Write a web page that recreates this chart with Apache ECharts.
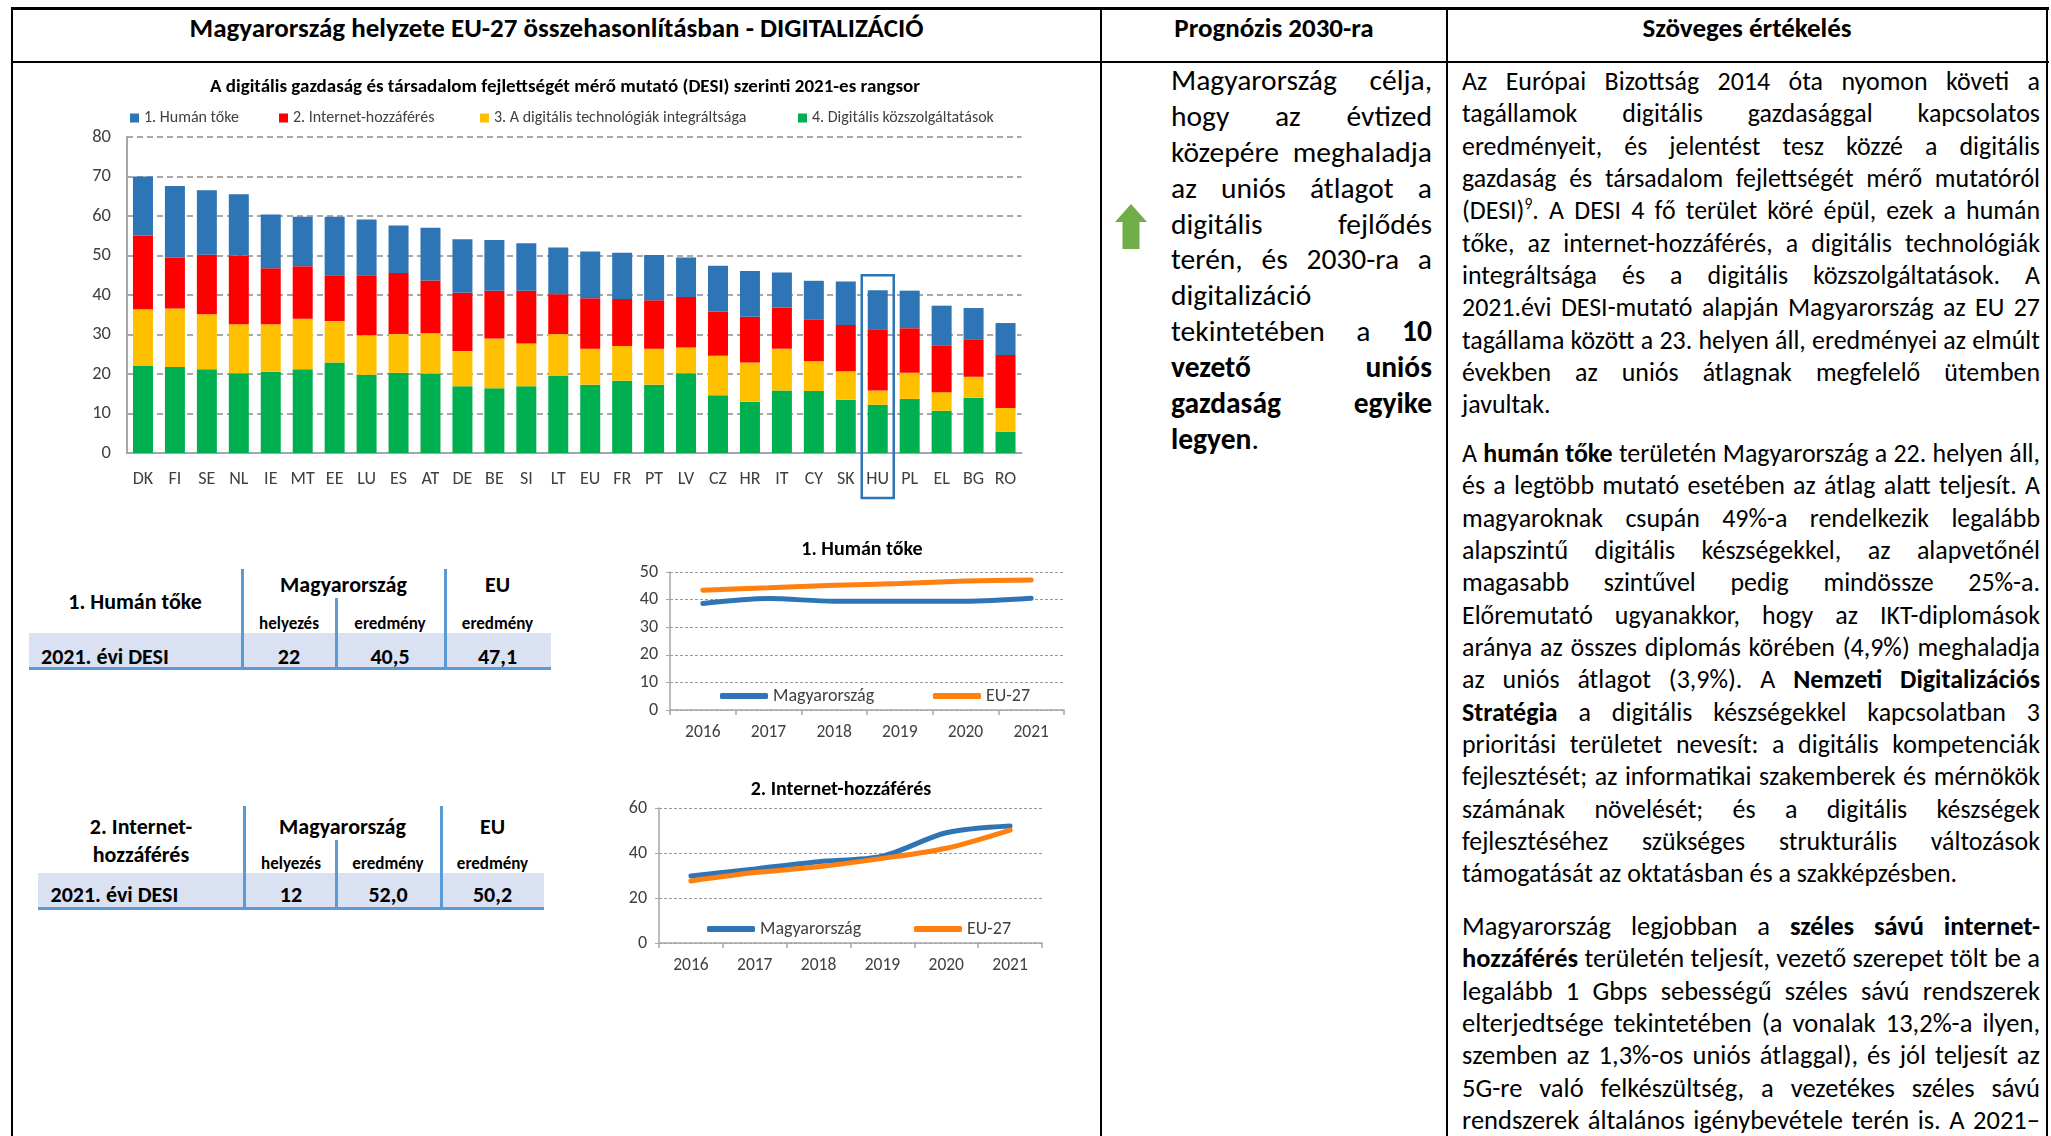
<!DOCTYPE html>
<html lang="hu">
<head>
<meta charset="utf-8">
<title>Magyarország helyzete EU-27 összehasonlításban - DIGITALIZÁCIÓ</title>
<script src="https://cdn.jsdelivr.net/npm/echarts@6/dist/echarts.min.js"></script>
<style>
  html, body { margin: 0; padding: 0; background: #fff; }
  body {
    position: relative; width: 2051px; height: 1136px; overflow: hidden;
    font-family: Carlito, Lato, "Open Sans", sans-serif; color: #000;
  }
  .rule { position: absolute; background: #000; }
  .head { position: absolute; top: 10px; height: 36px; line-height: 36px;
          text-align: center; font-weight: bold; font-size: 27px; white-space: nowrap; }
  .txt { position: absolute; }
  .txt .ln { text-align: justify; text-align-last: justify; overflow: visible; }
  .txt .ln.end { text-align-last: left; }
  .txt sup { font-size: 0.6em; line-height: 0; vertical-align: super; }
  .cell { position: absolute; transform: translate(-50%, -50%); white-space: nowrap;
          font-weight: bold; line-height: 1; }
  .cell.left { transform: translate(0, -50%); }
  .box { position: absolute; }
  .chart { position: absolute; }
</style>
</head>
<body>

<!-- table frame -->
<div class="rule" style="left:11px; top:7px; width:2038px; height:3px;"></div>
<div class="rule" style="left:11px; top:61px; width:2038px; height:2px;"></div>
<div class="rule" style="left:11px; top:7px; width:2px; height:1129px;"></div>
<div class="rule" style="left:1100px; top:7px; width:2px; height:1129px;"></div>
<div class="rule" style="left:1446px; top:7px; width:2px; height:1129px;"></div>
<div class="rule" style="left:2046px; top:7px; width:2px; height:1129px;"></div>

<div class="head" style="left:13px; width:1087px;">Magyarország helyzete EU-27 összehasonlításban - DIGITALIZÁCIÓ</div>
<div class="head" style="left:1102px; width:344px;">Prognózis 2030-ra</div>
<div class="head" style="left:1448px; width:598px;">Szöveges értékelés</div>

<div id="bars" class="chart" style="left:0; top:63px; width:1100px; height:480px;"></div>
<div id="line1" class="chart" style="left:590px; top:535px; width:500px; height:215px;"></div>
<div id="line2" class="chart" style="left:590px; top:770px; width:500px; height:215px;"></div>
<div id="tables"></div>

<svg style="position:absolute; left:1115px; top:204px;" width="32" height="45" viewBox="0 0 32 45">
  <polygon points="16,0 32,18 24.5,18 24.5,45 7.5,45 7.5,18 0,18" fill="#70AD47"></polygon>
</svg>

<div id="prognosis" class="txt" style="left:1171px; top:63px; width:261px;"></div>
<div id="p1" class="txt" style="left:1462px; top:65px; width:578px;"></div>
<div id="p2" class="txt" style="left:1462px; top:437px; width:578px;"></div>
<div id="p3" class="txt" style="left:1462px; top:910px; width:578px;"></div>

<script>
// DESI 2021 ranking, contributions of the four dimensions
var countries = ['DK', 'FI', 'SE', 'NL', 'IE', 'MT', 'EE', 'LU', 'ES', 'AT', 'DE', 'BE', 'SI', 'LT',
                 'EU', 'FR', 'PT', 'LV', 'CZ', 'HR', 'IT', 'CY', 'SK', 'HU', 'PL', 'EL', 'BG', 'RO'];
var humanCapital = [15.0, 18.2, 16.3, 15.5, 13.6, 12.5, 14.8, 14.1, 12.0, 13.3, 13.5, 12.8, 12.0, 11.8,
                    11.8, 11.7, 11.4, 10.0, 11.6, 11.6, 8.9, 9.9, 11.0, 9.9, 9.5, 10.0, 7.9, 8.1];
var connectivity = [18.6, 12.8, 15.1, 17.4, 14.2, 13.3, 11.6, 15.2, 15.5, 13.4, 14.8, 12.1, 13.4, 10.1,
                    12.8, 11.9, 12.3, 12.8, 11.2, 11.6, 10.4, 10.5, 11.7, 15.5, 11.3, 11.9, 9.5, 13.4];
var techIntegration = [14.4, 14.8, 13.9, 12.4, 12.0, 12.8, 10.5, 10.0, 9.8, 10.2, 8.9, 12.6, 10.8, 10.5,
                       9.1, 8.8, 9.1, 6.5, 10.0, 9.9, 10.6, 7.5, 7.2, 3.6, 6.6, 4.7, 5.3, 6.0];
var publicServices = [22.0, 21.8, 21.2, 20.2, 20.6, 21.2, 22.9, 19.8, 20.3, 20.1, 16.9, 16.4, 16.9, 19.6,
                      17.3, 18.3, 17.3, 20.2, 14.6, 13.0, 15.8, 15.7, 13.5, 12.2, 13.7, 10.7, 14.0, 5.4];
var seriesNames = ['1. Humán tőke', '2. Internet-hozzáférés',
                   '3. A digitális technológiák integráltsága', '4. Digitális közszolgáltatások'];
var highlightCountry = 'HU';
var highlightTop = 45;

// small charts: Hungary vs EU-27
var years = ['2016', '2017', '2018', '2019', '2020', '2021'];
var humanHu = [38.6, 40.4, 39.4, 39.4, 39.4, 40.5];
var humanEu = [43.4, 44.3, 45.2, 45.8, 46.7, 47.1];
var internetHu = [29.8, 32.9, 36.1, 38.6, 49.0, 52.0];
var internetEu = [27.6, 31.3, 33.9, 37.6, 42.1, 50.2];

// summary tables
var tableTitles = [['1. Humán tőke'], ['2. Internet-', 'hozzáférés']];
var tableRanks = [22, 12];
var tableHuScores = [40.5, 52.0];
var tableEuScores = [47.1, 50.2];

var FONT = 'Carlito, Lato, "Open Sans", sans-serif';
var BLUE = '#2E75B6', RED = '#FF0000', YELLOW = '#FFC000', GREEN = '#00B050';
var LINE_BLUE = '#2F75B5', LINE_ORANGE = '#FF7F0F';

// ---------- text columns ----------
var prognosisLines = [
  ['Magyarország célja,', 0], ['hogy az évtized', 0], ['közepére meghaladja', 0],
  ['az uniós átlagot a', 0], ['digitális fejlődés', 0], ['terén, és 2030-ra a', 0],
  ['digitalizáció', 1], ['tekintetében a <b>10</b>', 0], ['<b>vezető uniós</b>', 0],
  ['<b>gazdaság egyike</b>', 0], ['<b>legyen</b>.', 1]
];
var para1 = [
  'Az Európai Bizottság 2014 óta nyomon követi a',
  'tagállamok digitális gazdasággal kapcsolatos',
  'eredményeit, és jelentést tesz közzé a digitális',
  'gazdaság és társadalom fejlettségét mérő mutatóról',
  '(DESI)<sup>9</sup>. A DESI 4 fő terület köré épül, ezek a humán',
  'tőke, az internet-hozzáférés, a digitális technológiák',
  'integráltsága és a digitális közszolgáltatások. A',
  '2021.évi DESI-mutató alapján Magyarország az EU 27',
  'tagállama között a 23. helyen áll, eredményei az elmúlt',
  'években az uniós átlagnak megfelelő ütemben',
  'javultak.'
];
var para2 = [
  'A <b>humán tőke</b> területén Magyarország a 22. helyen áll,',
  'és a legtöbb mutató esetében az átlag alatt teljesít. A',
  'magyaroknak csupán 49%-a rendelkezik legalább',
  'alapszintű digitális készségekkel, az alapvetőnél',
  'magasabb szintűvel pedig mindössze 25%-a.',
  'Előremutató ugyanakkor, hogy az IKT-diplomások',
  'aránya az összes diplomás körében (4,9%) meghaladja',
  'az uniós átlagot (3,9%). A <b>Nemzeti Digitalizációs</b>',
  '<b>Stratégia</b> a digitális készségekkel kapcsolatban 3',
  'prioritási területet nevesít: a digitális kompetenciák',
  'fejlesztését; az informatikai szakemberek és mérnökök',
  'számának növelését; és a digitális készségek',
  'fejlesztéséhez szükséges strukturális változások',
  'támogatását az oktatásban és a szakképzésben.'
];
var para3 = [
  'Magyarország legjobban a <b>széles sávú internet-</b>',
  '<b>hozzáférés</b> területén teljesít, vezető szerepet tölt be a',
  'legalább 1 Gbps sebességű széles sávú rendszerek',
  'elterjedtsége tekintetében (a vonalak 13,2%-a ilyen,',
  'szemben az 1,3%-os uniós átlaggal), és jól teljesít az',
  '5G-re való felkészültség, a vezetékes széles sávú',
  'rendszerek általános igénybevétele terén is. A 2021–'
];

function fillBlock(id, lines, lineHeight, size, lastIsEnd) {
  var block = document.getElementById(id);
  block.style.fontSize = size + 'px';
  var html = '';
  lines.forEach(function (l, i) {
    var text = Array.isArray(l) ? l[0] : l;
    var end = Array.isArray(l) ? l[1] : (lastIsEnd && i === lines.length - 1);
    html += '<div class="ln' + (end ? ' end' : '') + '" style="height:' + lineHeight +
            'px; line-height:' + lineHeight + 'px;">' + text + '</div>';
  });
  block.innerHTML = html;
  // shrink the font until the widest line fits on one row
  var widest = 0;
  block.querySelectorAll('.ln').forEach(function (ln) {
    var probe = document.createElement('span');
    probe.style.whiteSpace = 'nowrap';
    probe.innerHTML = ln.innerHTML;
    ln.innerHTML = '';
    ln.appendChild(probe);
    widest = Math.max(widest, probe.getBoundingClientRect().width);
    ln.innerHTML = probe.innerHTML;
  });
  var avail = block.clientWidth;
  if (widest > avail) block.style.fontSize = (size * avail / widest * 0.995) + 'px';
}
fillBlock('prognosis', prognosisLines, 35.9, 29.5, false);
fillBlock('p1', para1, 32.35, 26.5, true);
fillBlock('p2', para2, 32.35, 26.5, true);
fillBlock('p3', para3, 32.35, 26.5, false);

// ---------- summary tables ----------
var tableLayouts = [
  { x0: 29, x1: 551, div: [242, 336, 445], divTop: 569, midTop: 598, rowTop: 633, rowBottom: 670,
    titleX: 135, titleY: [602], groupX: 343.5, groupY: 585, euX: 497.5, subY: 623,
    dataY: 657, labelX: 41, cols: [289, 390, 497.5] },
  { x0: 38, x1: 544, div: [244, 336, 441], divTop: 806, midTop: 840, rowTop: 873, rowBottom: 910,
    titleX: 141, titleY: [827, 855], groupX: 342.5, groupY: 827, euX: 492.5, subY: 863,
    dataY: 895, labelX: 50.5, cols: [291, 388, 492.5] }
];
function fmt(v) { return v.toFixed(1).replace('.', ','); }
function cell(text, x, y, size, left) {
  return '<div class="cell' + (left ? ' left' : '') + '" style="left:' + x + 'px; top:' + y +
         'px; font-size:' + size + 'px;">' + text + '</div>';
}
var tablesHtml = '';
tableLayouts.forEach(function (t, i) {
  tablesHtml += '<div class="box" style="left:' + t.x0 + 'px; top:' + t.rowTop + 'px; width:' +
    (t.x1 - t.x0) + 'px; height:' + (t.rowBottom - t.rowTop - 3) +
    'px; background:#D9E1F2; border-bottom:3px solid #5B9BD5;"></div>';
  [[t.div[0], t.divTop], [t.div[1], t.midTop], [t.div[2], t.divTop]].forEach(function (d) {
    tablesHtml += '<div class="box" style="left:' + (d[0] - 1.5) + 'px; top:' + d[1] +
      'px; width:3px; height:' + (t.rowBottom - d[1]) + 'px; background:#5B9BD5;"></div>';
  });
  tableTitles[i].forEach(function (line, k) {
    tablesHtml += cell(line, t.titleX, t.titleY[k], 22);
  });
  tablesHtml += cell('Magyarország', t.groupX, t.groupY, 22);
  tablesHtml += cell('EU', t.euX, t.groupY, 22);
  tablesHtml += cell('helyezés', t.cols[0], t.subY, 17);
  tablesHtml += cell('eredmény', t.cols[1], t.subY, 17);
  tablesHtml += cell('eredmény', t.cols[2], t.subY, 17);
  tablesHtml += cell('2021. évi DESI', t.labelX, t.dataY, 22, true);
  tablesHtml += cell(String(tableRanks[i]), t.cols[0], t.dataY, 22);
  tablesHtml += cell(fmt(tableHuScores[i]), t.cols[1], t.dataY, 22);
  tablesHtml += cell(fmt(tableEuScores[i]), t.cols[2], t.dataY, 22);
});
document.getElementById('tables').innerHTML = tablesHtml;

// ---------- stacked bar chart ----------
var barChart = echarts.init(document.getElementById('bars'));
var legendLefts = [130, 279, 480, 798];
var barOption = {
  animation: false,
  textStyle: { fontFamily: FONT },
  title: {
    text: 'A digitális gazdaság és társadalom fejlettségét mérő mutató (DESI) szerinti 2021-es rangsor',
    left: 565, top: 15, textAlign: 'center', padding: 0,
    textStyle: { fontSize: 19, fontWeight: 'bold', color: '#000', fontFamily: FONT }
  },
  legend: seriesNames.map(function (name, i) {
    return {
      data: [name], left: legendLefts[i], top: 47, padding: 0,
      icon: 'rect', itemWidth: 9, itemHeight: 9, itemGap: 0,
      textStyle: { fontSize: 16, color: '#404040', fontFamily: FONT }
    };
  }),
  grid: { left: 127, top: 74, width: 894.5, height: 316 },
  xAxis: {
    type: 'category', data: countries,
    axisLine: { lineStyle: { color: '#A6A6A6', width: 2 } },
    axisTick: { show: false },
    axisLabel: { interval: 0, fontSize: 18, color: '#404040', margin: 17, fontFamily: FONT }
  },
  yAxis: {
    type: 'value', min: 0, max: 80, interval: 10,
    axisLine: { show: true, lineStyle: { color: '#A6A6A6', width: 2 } },
    axisTick: { show: false },
    axisLabel: { fontSize: 18.5, color: '#404040', margin: 16, fontFamily: FONT },
    splitLine: { lineStyle: { type: [6, 4], color: '#8C8C8C', width: 1.5 } }
  },
  series: [
    { name: seriesNames[3], data: publicServices, color: GREEN },
    { name: seriesNames[2], data: techIntegration, color: YELLOW },
    { name: seriesNames[1], data: connectivity, color: RED },
    { name: seriesNames[0], data: humanCapital, color: BLUE }
  ].map(function (s) {
    return { name: s.name, type: 'bar', stack: 'desi', barWidth: 20, data: s.data,
             itemStyle: { color: s.color } };
  })
};
barChart.setOption(barOption);

// frame around the Hungarian bar and its label
var boxTop = barChart.convertToPixel({ xAxisIndex: 0, yAxisIndex: 0 }, [highlightCountry, highlightTop]);
var boxBase = barChart.convertToPixel({ xAxisIndex: 0, yAxisIndex: 0 }, [highlightCountry, 0]);
barChart.setOption({
  graphic: [{
    type: 'rect', z: 100,
    shape: { x: boxTop[0] - 16, y: boxTop[1], width: 32, height: boxBase[1] - boxTop[1] + 45 },
    style: { fill: 'none', stroke: BLUE, lineWidth: 2.5 }
  }]
});

// ---------- line charts ----------
function lineOption(cfg) {
  return {
    animation: false,
    textStyle: { fontFamily: FONT },
    title: {
      text: cfg.title, left: cfg.titleX, top: cfg.titleTop, textAlign: 'center', padding: 0,
      textStyle: { fontSize: 20, fontWeight: 'bold', color: '#000', fontFamily: FONT }
    },
    legend: [['Magyarország', LINE_BLUE], ['EU-27', LINE_ORANGE]].map(function (l, i) {
      return {
        data: [{ name: l[0], itemStyle: { color: l[1] } }],
        left: cfg.legendLefts[i], top: cfg.legendTop, padding: 0,
        icon: 'roundRect', itemWidth: 48, itemHeight: 6,
        textStyle: { fontSize: 18, color: '#404040', fontFamily: FONT }
      };
    }),
    grid: { left: cfg.left, top: cfg.top, width: cfg.width, height: cfg.height },
    xAxis: {
      type: 'category', data: years, boundaryGap: true,
      axisLine: { lineStyle: { color: '#A6A6A6', width: 1.5 } },
      axisTick: { show: true, length: 5, lineStyle: { color: '#A6A6A6', width: 1.5 } },
      axisLabel: { fontSize: 17.5, color: '#404040', margin: 14, fontFamily: FONT }
    },
    yAxis: {
      type: 'value', min: 0, max: cfg.max, interval: cfg.interval,
      axisLine: { show: true, lineStyle: { color: '#A6A6A6', width: 1.5 } },
      axisTick: { show: true, length: 4, lineStyle: { color: '#A6A6A6' } },
      axisLabel: { fontSize: 18, color: '#404040', margin: 12, fontFamily: FONT },
      splitLine: { lineStyle: { type: [3, 2], color: '#9A9A9A', width: 1 } }
    },
    series: [
      { name: 'Magyarország', type: 'line', data: cfg.hu, smooth: 0.3, showSymbol: false,
        lineStyle: { width: 5, color: LINE_BLUE, cap: 'round' }, itemStyle: { color: LINE_BLUE } },
      { name: 'EU-27', type: 'line', data: cfg.eu, smooth: 0.3, showSymbol: false,
        lineStyle: { width: 5, color: LINE_ORANGE, cap: 'round' }, itemStyle: { color: LINE_ORANGE } }
    ]
  };
}
var line1 = echarts.init(document.getElementById('line1'));
line1.setOption(lineOption({
  title: '1. Humán tőke', titleX: 272, titleTop: 5,
  left: 80, top: 37, width: 394, height: 138, max: 50, interval: 10,
  legendTop: 152, legendLefts: [130, 343], hu: humanHu, eu: humanEu
}));
var line2 = echarts.init(document.getElementById('line2'));
line2.setOption(lineOption({
  title: '2. Internet-hozzáférés', titleX: 251, titleTop: 10,
  left: 69, top: 38, width: 383, height: 135, max: 60, interval: 20,
  legendTop: 150, legendLefts: [117, 324], hu: internetHu, eu: internetEu
}));
</script>
</body>
</html>
